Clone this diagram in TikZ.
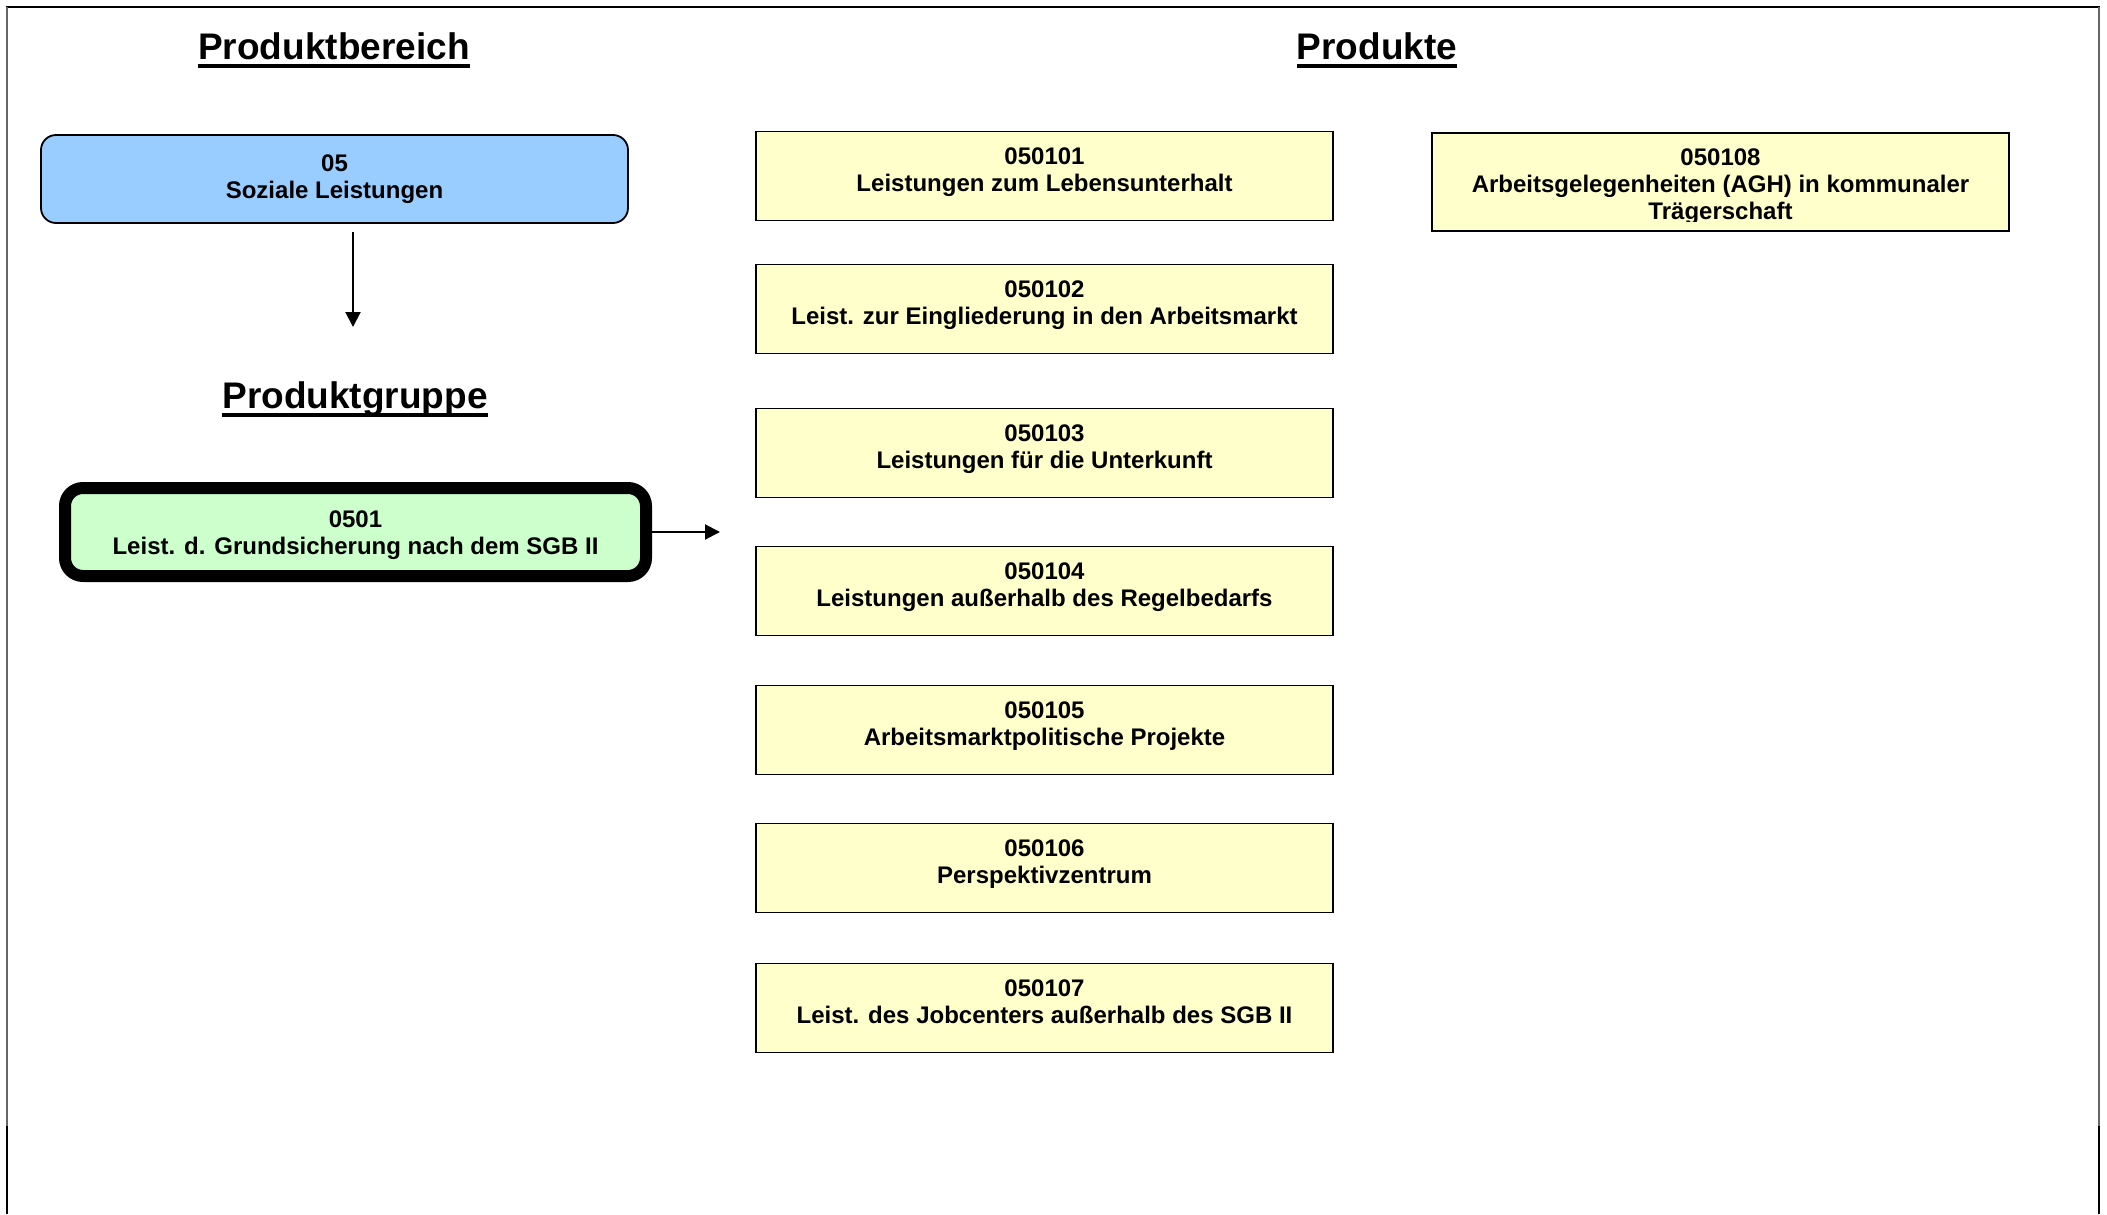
\documentclass[tikz,border=0pt]{standalone}
\usepackage{fontspec}
\setmainfont{Liberation Sans}
\usetikzlibrary{arrows.meta}
\definecolor{bluefill}{HTML}{99CCFF}
\definecolor{greenfill}{HTML}{CCFFCC}
\definecolor{yellowfill}{HTML}{FFFFCC}
\definecolor{framegray}{HTML}{666666}
\newcommand\twolines[2]{\begin{tabular}[t]{@{}c@{}}#1\\#2\end{tabular}}
\begin{document}
\begin{tikzpicture}[x=0.5pt,y=-0.5pt,
  heading/.style={font=\fontsize{18.5}{22}\selectfont\bfseries, inner sep=0pt, outer sep=0pt, anchor=base},
  uline/.style={line width=2pt},
  ybox/.style={draw=black, line width=0.9pt, fill=yellowfill, minimum width=288.5pt, minimum height=44.5pt, inner sep=0pt, outer sep=0pt},
  ytext/.style={font=\fontsize{12}{13.5}\selectfont\bfseries, inner sep=0pt, outer sep=0pt, anchor=base},
  ctext/.style={font=\fontsize{12}{13.5}\selectfont\bfseries, inner sep=0pt, outer sep=0pt, align=center},
  bluebox/.style={draw=black, line width=0.9pt, fill=bluefill, rounded corners=7.5pt, minimum width=293.5pt, minimum height=44pt, inner sep=0pt, align=center, font=\fontsize{12}{13.5}\selectfont\bfseries},
  greenbox/.style={draw=black, line width=6pt, fill=greenfill, rounded corners=9pt, minimum width=290.5pt, minimum height=44pt, inner sep=0pt},
  arr/.style={line width=1pt, -{Triangle[length=7.5pt,width=7.5pt]}},
  frameblack/.style={line width=1.25pt, black},
  framegrey/.style={line width=1pt, framegray}
]
\useasboundingbox (0,0) rectangle (2107,1214);

% page frame
\draw[frameblack] (6,7) -- (2100,7);
\draw[framegrey] (7,7) -- (7,1126);
\draw[frameblack] (7,1126) -- (7,1214);
\draw[framegrey] (2099,7) -- (2099,1126);
\draw[frameblack] (2099,1126) -- (2099,1214);

% headings
\node[heading] (hb) at (334,60) {Produktbereich};
\draw[uline] ([yshift=-3.25pt]hb.base west) -- ([yshift=-3.25pt]hb.base east);
\node[heading] (hp) at (1377,60) {Produkte};
\draw[uline] ([yshift=-3.25pt]hp.base west) -- ([yshift=-3.25pt]hp.base east);
\node[heading] (hg) at (355,408) {Produktgruppe};
\draw[uline] ([yshift=-3.25pt]hg.base west) -- ([yshift=-3.25pt]hg.base east);

% Produktbereich
\node[bluebox] (pb) at (334.5,179) {05\\Soziale Leistungen};
\coordinate (da) at (353,232);
\coordinate (db) at (353,327);
\draw[arr] (da) -- (db);

% Produktgruppe
\node[greenbox] (pg) at (355.5,532) {};
\node[ctext] (pgt) at ([yshift=-1.5pt]pg.center) {0501\\Leist. d. Grundsicherung nach dem SGB II};
\coordinate (ga) at (720,532);
\draw[arr] (pg.east) -- (ga);

% Produkte
\node[ybox] (p1) at (1044.5,176) {};
\node[ytext] (t1) at ([yshift=-16.5pt]p1.north) {\twolines{050101}{Leistungen zum Lebensunterhalt}};
\node[ybox] (p2) at (1044.5,309) {};
\node[ytext] (t2) at ([yshift=-16.5pt]p2.north) {\twolines{050102}{Leist. zur Eingliederung in den Arbeitsmarkt}};
\node[ybox] (p3) at (1044.5,453) {};
\node[ytext] (t3) at ([yshift=-16.5pt]p3.north) {\twolines{050103}{Leistungen für die Unterkunft}};
\node[ybox] (p4) at (1044.5,591) {};
\node[ytext] (t4) at ([yshift=-16.5pt]p4.north) {\twolines{050104}{Leistungen außerhalb des Regelbedarfs}};
\node[ybox] (p5) at (1044.5,730) {};
\node[ytext] (t5) at ([yshift=-16.5pt]p5.north) {\twolines{050105}{Arbeitsmarktpolitische Projekte}};
\node[ybox] (p6) at (1044.5,868) {};
\node[ytext] (t6) at ([yshift=-16.5pt]p6.north) {\twolines{050106}{Perspektivzentrum}};
\node[ybox] (p7) at (1044.5,1008) {};
\node[ytext] (t7) at ([yshift=-16.5pt]p7.north) {\twolines{050107}{Leist. des Jobcenters außerhalb des SGB II}};

\node[ybox, minimum height=49pt] (p8) at (1720.5,182) {};
\begin{scope}
  \clip (1431,132) rectangle (2010,222);
  \node[ytext] (t8) at ([yshift=-16.5pt]p8.north) {\begin{tabular}[t]{@{}c@{}}050108\\Arbeitsgelegenheiten (AGH) in kommunaler\\Trägerschaft\end{tabular}};
\end{scope}
\end{tikzpicture}
\end{document}
